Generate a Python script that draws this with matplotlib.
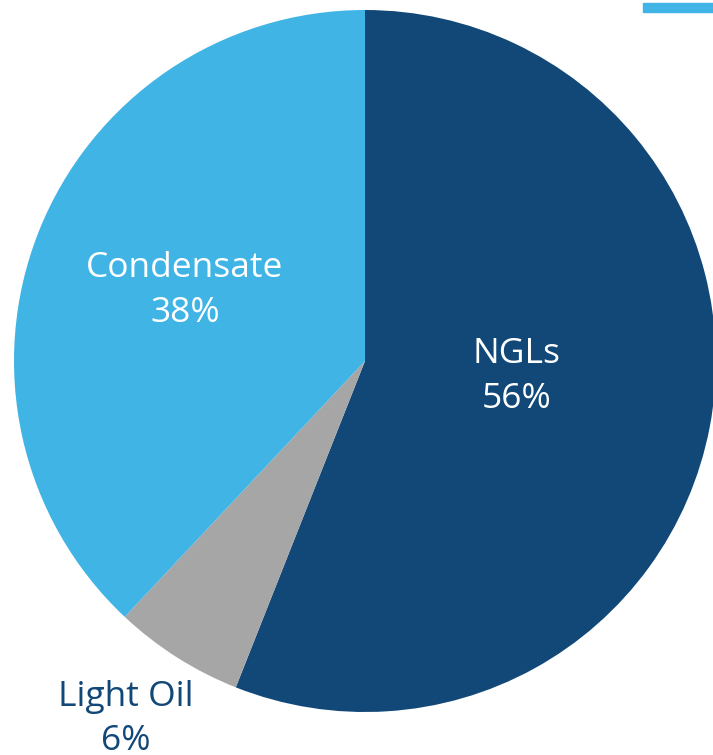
import matplotlib
matplotlib.use("Agg")
import matplotlib.pyplot as plt
from matplotlib.patches import Rectangle

# data
categories = ["NGLs", "Light Oil", "Condensate"]
shares = [56, 6, 38]
colors = ["#124878", "#A6A6A6", "#40B4E4"]
label_colors = ["white", "#124878", "white"]
# label placement (x, y) in pie units, radius = 1
label_pos = [(0.433, -0.045), (-0.681, -1.02), (-0.513, 0.2)]

W, H = 713, 755
cx, cy, r = 365, 361, 351

fig = plt.figure(figsize=(W / 100, H / 100), dpi=100)
ax = fig.add_axes([0, 0, 1, 1])
ax.pie(shares, colors=colors, startangle=90, counterclock=False,
       radius=1, wedgeprops=dict(linewidth=0))
ax.set_xlim(-cx / r, (W - cx) / r)
ax.set_ylim(-(H - cy) / r, cy / r)
ax.set_aspect("auto")
ax.axis("off")

for name, val, (x, y), c in zip(categories, shares, label_pos, label_colors):
    ax.text(x, y, f"{name}\n{val}%", ha="center", va="center", color=c,
            fontsize=25.5, family="Open Sans", linespacing=1.42)

# cropped legend marker at top right
fig.patches.append(Rectangle((643 / W, 1 - 12 / H), 70 / W, 9 / H,
                             transform=fig.transFigure, color="#40B4E4"))

fig.savefig("out.png", dpi=100)
